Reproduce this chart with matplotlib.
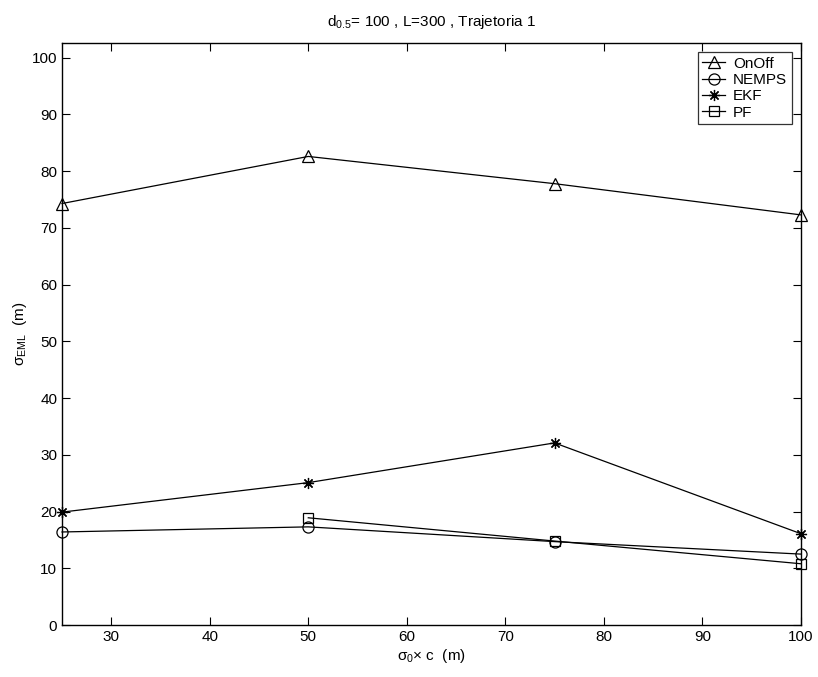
import numpy as np
import matplotlib.pyplot as plt

plt.rcParams['font.family'] = ['Liberation Sans', 'DejaVu Sans']
plt.rcParams['mathtext.fontset'] = 'custom'
plt.rcParams['mathtext.rm'] = 'Liberation Sans'
plt.rcParams['mathtext.it'] = 'Liberation Sans'

# sigma_0 x c (m)
x = [25, 50, 75, 100]
onoff = [74.3, 82.6, 77.8, 72.3]
nemps = [16.4, 17.3, 14.7, 12.5]
ekf = [19.9, 25.1, 32.1, 16.1]
x_pf = [50, 75, 100]
pf = [18.9, 14.8, 10.8]

fig = plt.figure(figsize=(8.18, 6.77), dpi=100)
ax = fig.add_axes([0.0758, 0.0768, 0.9032, 0.8597])

style = dict(color='black', linewidth=0.9, markersize=8, fillstyle='none',
             markeredgewidth=0.9, clip_on=False, zorder=3)
ax.plot(x, onoff, marker='^', label='OnOff', **style)
ax.plot(x, nemps, marker='o', label='NEMPS', **style)
ax.plot(x, ekf, marker=(8, 2, 0), label='EKF', **style)
ax.plot(x_pf, pf, marker='s', label='PF', **{**style, 'markersize': 7})

ax.set_xlim(25, 100)
ax.set_ylim(0, 102.6)
ax.set_xticks(np.arange(30, 101, 10))
ax.set_yticks(np.arange(0, 101, 10))
ax.tick_params(direction='in', top=True, right=True, labelsize=11, length=6, width=0.8)
for s in ax.spines.values():
    s.set_linewidth(1.0)
    s.set_zorder(2)

ax.set_title(r'd$_{0.5}$= 100 , L=300 , Trajetoria 1', fontsize=11, pad=12)
ax.set_ylabel(r'$\sigma_{EML}$  (m)', fontsize=11, labelpad=2)
ax.set_xlabel(r'$\sigma_0$$\times$ c  (m)', fontsize=11, labelpad=2)

leg = ax.legend(loc='upper right', fontsize=11, frameon=True, fancybox=False,
                edgecolor='black', borderaxespad=0.6, handlelength=1.5,
                handletextpad=0.5, labelspacing=0.15, borderpad=0.3)
leg.get_frame().set_linewidth(0.9)
leg.set_zorder(5)

fig.savefig('out.png', dpi=100)
plt.close()
